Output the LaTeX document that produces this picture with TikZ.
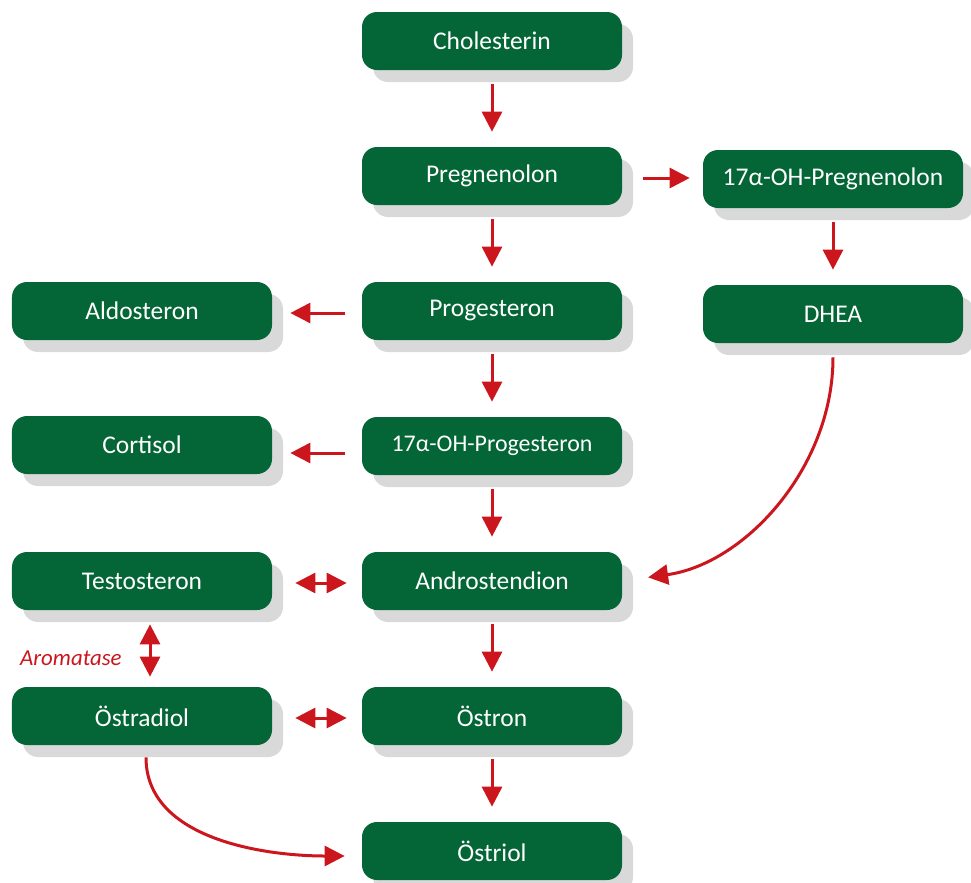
\documentclass[tikz,border=0pt]{standalone}
\usepackage{fontspec}
\setmainfont{Carlito}
\usetikzlibrary{arrows.meta,shadows}
\definecolor{boxgreen}{RGB}{4,102,54}
\definecolor{arrowred}{RGB}{204,22,30}
\definecolor{shadowgrey}{RGB}{217,217,217}

\begin{document}
\begin{tikzpicture}[
    stoff/.style={rectangle, rounded corners=0.3cm, fill=boxgreen, text=white,
        minimum width=5.2cm, minimum height=1.16cm, inner sep=2pt,
        font=\fontsize{14.5}{17}\selectfont,
        drop shadow={shadow xshift=0.22cm, shadow yshift=-0.24cm, fill=shadowgrey, opacity=1}},
    pfeil/.style={draw=arrowred, line width=0.06cm,
        -{Triangle[width=0.4cm,length=0.4cm]}, shorten <=0.28cm, shorten >=0.3cm},
    doppelpfeil/.style={pfeil,
        {Triangle[width=0.4cm,length=0.4cm]}-{Triangle[width=0.4cm,length=0.4cm]}}
    ]
        \useasboundingbox (0,0) rectangle (19.42,-17.66);
        \node[stoff] (chol) at (9.84,-0.82) {Cholesterin};
        \node[stoff] (preg) at (9.84,-3.52) {Pregnenolon};
        \node[stoff] (ohpreg) at (16.66,-3.58) {17α-OH-Pregnenolon};
        \node[stoff] (aldo) at (2.84,-6.22) {Aldosteron};
        \node[stoff] (prog) at (9.84,-6.22) {Progesteron};
        \node[stoff] (dhea) at (16.66,-6.28) {DHEA};
        \node[stoff] (cort) at (2.84,-8.9) {Cortisol};
        \node[stoff, font=\fontsize{13.6}{16}\selectfont] (ohprog) at (9.84,-8.92) {17α-OH-Progesteron};
        \node[stoff] (testo) at (2.84,-11.62) {Testosteron};
        \node[stoff] (andro) at (9.84,-11.62) {Androstendion};
        \node[stoff] (ostradiol) at (2.84,-14.32) {Östradiol};
        \node[stoff] (ostron) at (9.84,-14.32) {Östron};
        \node[stoff] (ostriol) at (9.84,-17.02) {Östriol};

        \draw[pfeil] (chol) -- (preg);
        \draw[pfeil] (preg) -- (prog);
        \draw[pfeil] (prog) -- (ohprog);
        \draw[pfeil] (ohprog) -- (andro);
        \draw[pfeil] (andro) -- (ostron);
        \draw[pfeil] (ostron) -- (ostriol);
        \draw[pfeil] (ohpreg) -- (dhea);
        \draw[pfeil, shorten <=0.42cm, shorten >=0.26cm] ([yshift=-0.04cm]preg.east) -- ([yshift=-0.04cm]preg.east -| ohpreg.west);
        \draw[pfeil, shorten <=0.34cm, shorten >=0.36cm] ([yshift=-0.04cm]prog.west) -- ([yshift=-0.04cm]aldo.east);
        \draw[pfeil, shorten <=0.34cm, shorten >=0.36cm] ([yshift=-0.14cm]ohprog.west) -- ([yshift=-0.14cm]ohprog.west -| cort.east);
        \draw[doppelpfeil, shorten <=0.46cm, shorten >=0.3cm] ([yshift=-0.04cm]testo.east) -- ([yshift=-0.04cm]andro.west);
        \draw[doppelpfeil, shorten <=0.46cm, shorten >=0.3cm] ([yshift=-0.04cm]ostradiol.east) -- ([yshift=-0.04cm]ostron.west);
        \draw[doppelpfeil, shorten <=0.28cm, shorten >=0.2cm] ([xshift=0.16cm]testo.south) -- node[left=0.42cm, yshift=-0.2cm, text=arrowred, font=\itshape\fontsize{13}{15}\selectfont] {Aromatase} ([xshift=0.16cm]ostradiol.north);
        \draw[pfeil, shorten <=0.28cm, shorten >=0.52cm] (dhea.south) to[out=-90, in=8] (andro.east);
        \draw[pfeil, shorten <=0.24cm, shorten >=0.34cm] ([xshift=0.08cm]ostradiol.south) to[out=-90, in=180] ([yshift=-0.1cm]ostriol.west);
\end{tikzpicture}
\end{document}
